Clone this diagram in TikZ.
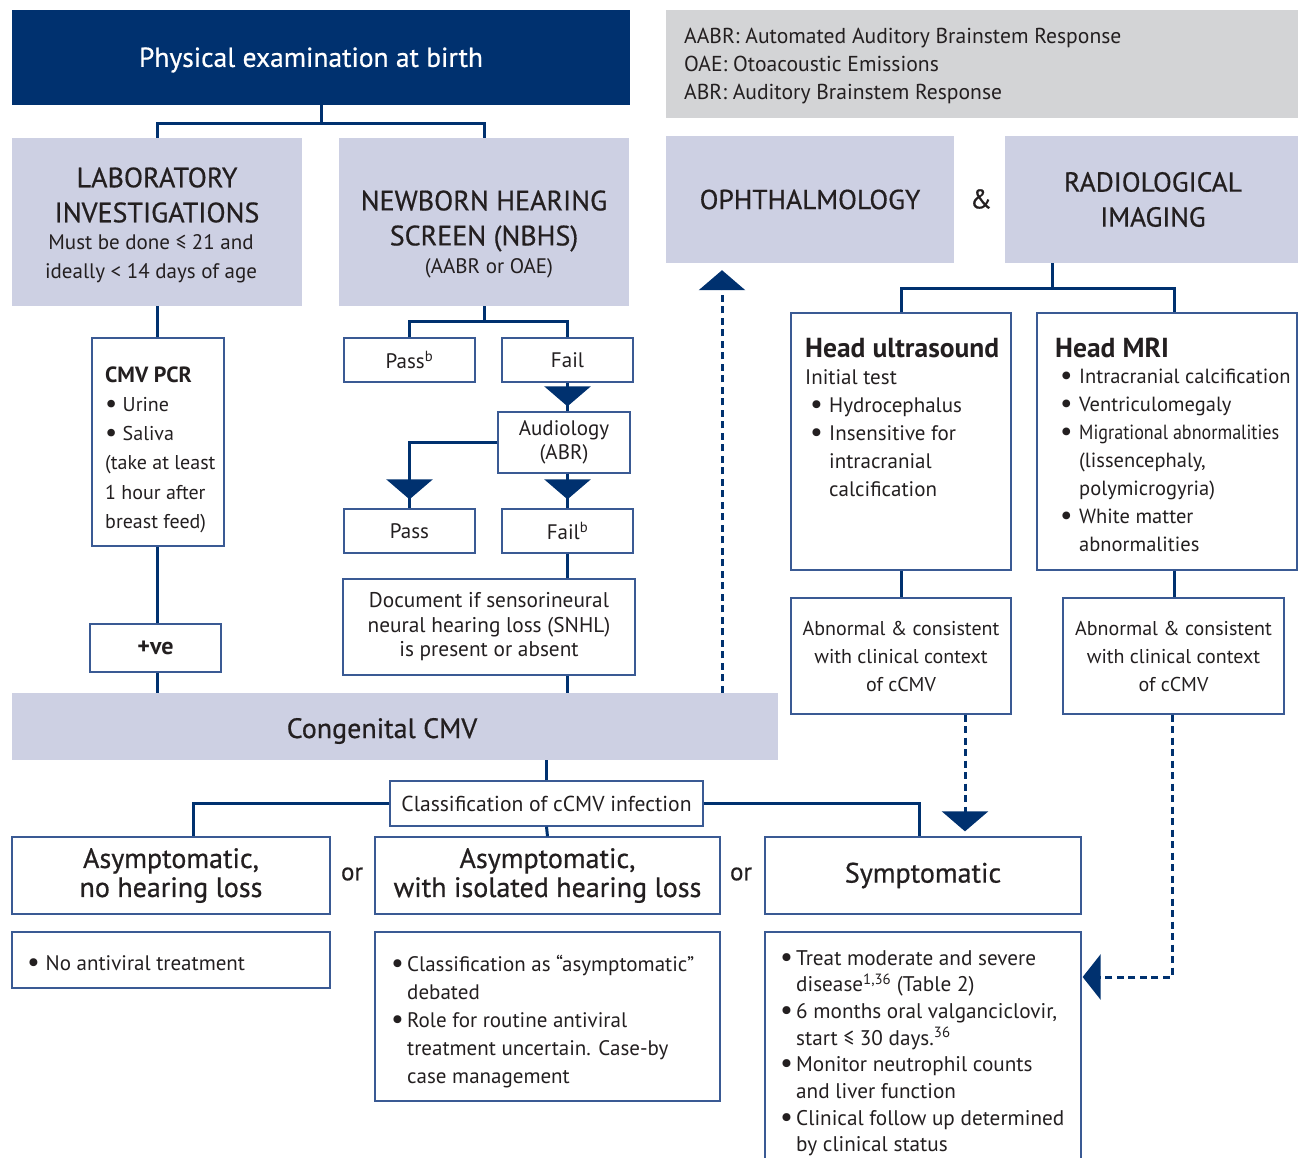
\documentclass[tikz,border=0pt]{standalone}
\usepackage{fontspec}
\usepackage{graphicx}
\setmainfont{PT Sans}
\newfontfamily\medfont[FakeBold=0.6]{PT Sans}
\usetikzlibrary{arrows.meta}
\definecolor{navy}{HTML}{00316F}
\definecolor{lav}{HTML}{CDD0E3}
\definecolor{legendgrey}{HTML}{D3D4D6}
\definecolor{bord}{HTML}{3A5A94}
\definecolor{ink}{HTML}{231F20}
\newcommand{\myfs}[2]{\fontsize{#1}{#2}\selectfont}
\newcommand{\bdot}{\raisebox{-1pt}{\scalebox{1.35}{•}}}
\newcommand{\bu}{\hspace*{5pt}\makebox[19pt][l]{\bdot}}
\newcommand{\ind}{\hspace*{24pt}}
\newcommand{\bl}{\makebox[16pt][l]{\bdot}}
\newcommand{\bi}{\hspace*{16pt}}
\begin{document}
\begin{tikzpicture}[x=1pt,y=-1pt,
  lavbox/.style={fill=lav, draw=none, inner sep=0pt, text=ink, align=center},
  wbox/.style={draw=bord, line width=1.3pt, fill=white, inner sep=0pt, text=ink, align=center},
  txt/.style={text=ink, inner sep=0pt, align=center},
  conn/.style={draw=navy, line width=3pt},
  dconn/.style={draw=navy, line width=3pt, dash pattern=on 7pt off 4.5pt},
  tri/.style={-{Triangle[width=46pt,length=20pt]}},
  ltri/.style={-{Triangle[width=45pt,length=18pt]}},
]
\useasboundingbox (0,0) rectangle (1306,1158);
\clip (0,0) rectangle (1306,1158);

% top
\node[fill=navy, minimum width=618pt, minimum height=95pt, inner sep=0pt] (top) at (321,57.5) {};
\node[txt, text=white, font=\medfont\myfs{27.5}{30}] (topt) at (311,60) {Physical examination at birth};

% lab
\node[lavbox, minimum width=290pt, minimum height=168pt] (lab) at (157,222) {};
\node[txt, font=\medfont\myfs{28}{35}] (labt) at (157,195) {LABORATORY\\INVESTIGATIONS};
\node[txt, font=\myfs{21}{29}] (labs) at (151,259) {Must be done ≤ 21 and\\ideally < 14 days of age};

% nbhs
\node[lavbox, minimum width=290pt, minimum height=168pt] (nbhs) at (484,222) {};
\node[txt, font=\medfont\myfs{28}{35}] (nbt) at (484,221) {NEWBORN HEARING\\SCREEN (NBHS)};
\node[txt, font=\myfs{21}{29}] (nbs) at (489,268) {(AABR or OAE)};

% legend
\node[fill=legendgrey, minimum width=632pt, minimum height=108pt, inner sep=0pt] (leg) at (982,64) {};
\node[txt, align=left, anchor=west, font=\myfs{21.6}{28}] (legt) at (684,66) {AABR: Automated Auditory Brainstem Response\\OAE: Otoacoustic Emissions\\ABR: Auditory Brainstem Response};

% ophthalmology & radiology
\node[lavbox, minimum width=288pt, minimum height=127pt, font=\medfont\myfs{27.5}{35}] (oph) at (810,199.5) {OPHTHALMOLOGY};
\node[txt, font=\medfont\myfs{27}{30}] (amp) at (981,199) {\&};
\node[lavbox, minimum width=293pt, minimum height=127pt, font=\medfont\myfs{27.5}{35}] (rad) at (1151.5,199.5) {\hspace*{3pt}RADIOLOGICAL\\\hspace*{3pt}IMAGING};

% head ultrasound
\node[wbox, minimum width=220pt, minimum height=257pt] (hus) at (901,441.5) {};
\node[txt, anchor=west, font=\bfseries\myfs{27.5}{30}] (hust) at (805,348) {Head ultrasound};
\node[txt, anchor=north west, align=left, font=\myfs{21}{28}] (husb) at (805,369) {Initial test\\\bu Hydrocephalus\\\bu Insensitive for\\\ind intracranial\\\ind calcification};

% head MRI
\node[wbox, minimum width=260pt, minimum height=257pt] (mri) at (1167,441.5) {};
\node[txt, anchor=west, font=\bfseries\myfs{27.5}{30}] (mrit) at (1055,348) {Head MRI};
\node[txt, anchor=north west, align=left, font=\myfs{20.5}{28}] (mrib) at (1055,369) {\bu Intracranial calcification\\\bu Ventriculomegaly\\\bu \resizebox{200pt}{\height}{Migrational abnormalities}\\\ind (lissencephaly,\\\ind polymicrogyria)\\\bu White matter\\\ind abnormalities};

% abnormal boxes
\node[wbox, minimum width=220pt, minimum height=116pt, font=\myfs{20}{28}] (abn1) at (901,656) {Abnormal \& consistent\\with clinical context\\of cCMV};
\node[wbox, minimum width=221pt, minimum height=116pt, font=\myfs{20}{28}] (abn2) at (1173.5,656) {Abnormal \& consistent\\with clinical context\\of cCMV};

% CMV PCR
\node[wbox, minimum width=132pt, minimum height=208pt] (cmv) at (158,442) {};
\node[txt, anchor=west, font=\bfseries\myfs{22}{28}] (cmvt) at (105,375) {CMV PCR};
\node[txt, anchor=north west, align=left, font=\myfs{20}{29.3}] (cmvb) at (105,397) {\bdot{} Urine\\\bdot{} Saliva\\(take at least\\1 hour after\\breast feed)};
\node[wbox, minimum width=131pt, minimum height=48pt, font=\bfseries\myfs{24}{28}] (pos) at (155.5,648) {+ve};

% NBHS tree
\node[wbox, minimum width=131pt, minimum height=44pt, font=\myfs{21}{26}] (pass1) at (409.5,360) {Pass\textsuperscript{b}};
\node[wbox, minimum width=131pt, minimum height=44pt, font=\myfs{21}{26}] (fail1) at (567.5,360) {Fail};
\node[wbox, minimum width=132pt, minimum height=61pt, font=\myfs{21}{24}] (audio) at (564,442.5) {Audiology\\(ABR)};
\node[wbox, minimum width=131pt, minimum height=44pt, font=\myfs{21}{26}] (pass2) at (409.5,531) {Pass};
\node[wbox, minimum width=131pt, minimum height=44pt, font=\myfs{21}{26}] (fail2) at (567.5,531) {Fail\textsuperscript{b}};
\node[wbox, minimum width=292pt, minimum height=96pt, font=\myfs{21.3}{24.5}] (doc) at (489,627) {Document if sensorineural\\neural hearing loss (SNHL)\\is present or absent};

% congenital
\node[lavbox, minimum width=766pt, minimum height=67pt] (cong) at (395,726.5) {};
\node[txt, font=\medfont\myfs{28}{32}] (congt) at (382,731) {Congenital CMV};
\node[wbox, minimum width=313pt, minimum height=45pt, font=\myfs{21.6}{24}] (cls) at (546.5,803.5) {Classification of cCMV infection};

% classification outcomes
\node[wbox, minimum width=318pt, minimum height=77pt, font=\medfont\myfs{28}{29}] (asym1) at (171,875.5) {\raisebox{-4pt}{\parbox{300pt}{\centering Asymptomatic,\\no hearing loss}}};
\node[txt, font=\medfont\myfs{25}{28}] (or1) at (352,874) {or};
\node[wbox, minimum width=345pt, minimum height=77pt, font=\medfont\myfs{28}{29}] (asym2) at (547.5,875.5) {\raisebox{-4pt}{\parbox{330pt}{\centering Asymptomatic,\\with isolated hearing loss}}};
\node[txt, font=\medfont\myfs{25}{28}] (or2) at (741,874) {or};
\node[wbox, minimum width=316pt, minimum height=77pt, font=\medfont\myfs{28}{30}] (sympt) at (923,875.5) {\raisebox{-2pt}{Symptomatic}};

% treatment boxes
\node[wbox, minimum width=318pt, minimum height=56pt] (noav) at (171,960) {};
\node[txt, anchor=west, font=\myfs{21}{28}] (noavt) at (27,964) {\bdot{} No antiviral treatment};
\node[wbox, minimum width=345pt, minimum height=169pt] (cls2) at (547.5,1016.5) {};
\node[txt, anchor=north west, align=left, font=\myfs{21}{28}] (cls2t) at (391,955) {\bl Classification as “asymptomatic”\\\bi debated\\\bl Role for routine antiviral\\\bi treatment uncertain. Case-by\\\bi case management};
\node[wbox, minimum width=316pt, minimum height=260pt] (symlist) at (923,1062) {};
\node[txt, anchor=north west, align=left, font=\myfs{21.2}{26.7}] (symlt) at (780,950) {\bl Treat moderate and severe\\\bi disease\textsuperscript{1,36} (Table 2)\\\bl 6 months oral valganciclovir,\\\bi start ≤ 30 days.\textsuperscript{36}\\\bl Monitor neutrophil counts\\\bi and liver function\\\bl Clinical follow up determined\\\bi by clinical status};

% helper coordinates
\coordinate (dx1) at (722,0);
\coordinate (dx2) at (965,0);
\coordinate (dx3) at (1172,0);
\coordinate (dy3) at (0,977);
\coordinate (rx) at (1052,0);
\coordinate (mx) at (1174,0);
\coordinate (a1x) at (193,0);
\coordinate (s1x) at (919,0);

% solid connectors
\draw[conn] (top.south) -- ++(0,18) coordinate (j1);
\draw[conn] (lab.north) |- (j1) -| (nbhs.north);
\draw[conn] (lab.south) -- (lab.south |- cmv.north);
\draw[conn] (cmv.south -| lab.south) -- (pos.north -| lab.south);
\draw[conn] (pos.south -| lab.south) -- (cong.north -| lab.south);
\draw[conn] (nbhs.south) -- ++(0,15) coordinate (j2);
\draw[conn] (pass1.north) |- (j2) -| (fail1.north);
\draw[conn] (fail1.south) -- (audio.north -| fail1.south);
\draw[conn, tri, shorten >=5pt] (fail1.south) -- (audio.north -| fail1.south);
\draw[conn] (audio.west) -| (pass2.north);
\draw[conn, tri, shorten >=9pt] (audio.west) -| (pass2.north);
\draw[conn] (audio.south -| fail2.north) -- (fail2.north);
\draw[conn, tri, shorten >=9pt] (audio.south -| fail2.north) -- (fail2.north);
\draw[conn] (fail2.south) -- (fail2.south |- doc.north);
\draw[conn] (doc.south -| fail2.south) -- (cong.north -| fail2.south);
\draw[conn] (cls.north) -- (cls.north |- cong.south);
\draw[conn] (cls.west) -| (asym1.north -| a1x);
\draw[conn] (cls.east) -| (sympt.north -| s1x);
\draw[conn] (cls.south) -- (asym2.north);
\draw[conn] (rad.south -| rx) -- ++(0,25) coordinate (j3);
\draw[conn] (hus.north) |- (j3) -| (mri.north -| mx);
\draw[conn] (hus.south) -- (abn1.north);
\draw[conn] (mri.south -| mx) -- (abn2.north -| mx);

% dashed connectors
\draw[dconn, tri, shorten >=7pt] (cong.north -| dx1) -- (oph.south -| dx1);
\draw[dconn, tri, shorten >=5pt] (abn1.south -| dx2) -- (sympt.north -| dx2);
\draw[dconn, ltri, shorten >=1pt] (abn2.south -| dx3) |- (symlist.east |- dy3);
\end{tikzpicture}
\end{document}
